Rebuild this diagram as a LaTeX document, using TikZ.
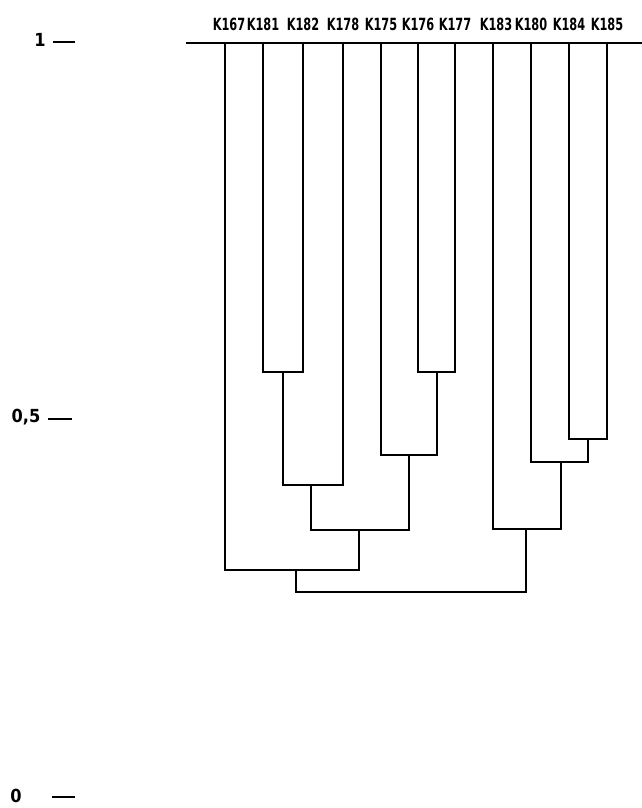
\documentclass[tikz,border=0pt]{standalone}
\usepackage{fontspec}
\setsansfont{DejaVu Sans Condensed}
\usetikzlibrary{positioning,calc}
\newcommand{\leaftext}[1]{\scalebox{0.9}[1.2]{#1}}

\begin{document}
\begin{tikzpicture}[
        x=1pt, y=-1pt,
        leaf/.style={font=\sffamily\bfseries\fontsize{14}{14}\selectfont, inner sep=0pt},
        tick/.style={font=\sffamily\bfseries\fontsize{18}{18}\selectfont, inner sep=0pt},
        link/.style={line width=1.6pt, line cap=rect},
        ticksign/.style={line width=1.6pt}
    ]
        \useasboundingbox (0,0) rectangle (641,808);

        % axis ticks
        \node[tick] (t1)  at (40,40)  {1};
        \node[tick] (t05) at (26,417) {0,5};
        \node[tick] (t0)  at (16,796) {0};
        \coordinate (d1a)  at (53,42);  \coordinate (d1b)  at (75,42);
        \coordinate (d05a) at (48,419); \coordinate (d05b) at (72,419);
        \coordinate (d0a)  at (52,797); \coordinate (d0b)  at (75,797);
        \draw[ticksign] (d1a)  -- (d1b);
        \draw[ticksign] (d05a) -- (d05b);
        \draw[ticksign] (d0a)  -- (d0b);

        % baseline at 1
        \coordinate (bl) at (187,43);
        \coordinate (br) at (641,43);
        \draw[link] (bl) -- (br);

        % leaf bases
        \coordinate (l1)  at (225,43);
        \coordinate (l2)  at (263,43);
        \coordinate (l3)  at (303,43);
        \coordinate (l4)  at (343,43);
        \coordinate (l5)  at (381,43);
        \coordinate (l6)  at (418,43);
        \coordinate (l7)  at (455,43);
        \coordinate (l8)  at (493,43);
        \coordinate (l9)  at (531,43);
        \coordinate (l10) at (569,43);
        \coordinate (l11) at (607,43);

        % leaf labels
        \node[leaf, above=12pt of l1, xshift=4pt] (k167) {\leaftext{K167}};
        \node[leaf, above=12pt of l2]  (k181) {\leaftext{K181}};
        \node[leaf, above=12pt of l3]  (k182) {\leaftext{K182}};
        \node[leaf, above=12pt of l4]  (k178) {\leaftext{K178}};
        \node[leaf, above=12pt of l5]  (k175) {\leaftext{K175}};
        \node[leaf, above=12pt of l6]  (k176) {\leaftext{K176}};
        \node[leaf, above=12pt of l7]  (k177) {\leaftext{K177}};
        \node[leaf, above=12pt of l8, xshift=3pt]  (k183) {\leaftext{K183}};
        \node[leaf, above=12pt of l9]  (k180) {\leaftext{K180}};
        \node[leaf, above=12pt of l10] (k184) {\leaftext{K184}};
        \node[leaf, above=12pt of l11] (k185) {\leaftext{K185}};

        % merge points
        \coordinate (m1)   at (283,372);
        \coordinate (m2)   at (437,372);
        \coordinate (m3)   at (311,485);
        \coordinate (m4)   at (409,455);
        \coordinate (m5)   at (359,530);
        \coordinate (m6)   at (296,570);
        \coordinate (m7)   at (588,439);
        \coordinate (m8)   at (561,462);
        \coordinate (m9)   at (526,529);
        \coordinate (root) at (410,592);

        \draw[link] (l2)  |- (m1) -| (l3);
        \draw[link] (l6)  |- (m2) -| (l7);
        \draw[link] (m1)  |- (m3) -| (l4);
        \draw[link] (l5)  |- (m4) -| (m2);
        \draw[link] (m3)  |- (m5) -| (m4);
        \draw[link] (l1)  |- (m6) -| (m5);
        \draw[link] (l10) |- (m7) -| (l11);
        \draw[link] (l9)  |- (m8) -| (m7);
        \draw[link] (l8)  |- (m9) -| (m8);
        \draw[link] (m6)  |- (root) -| (m9);
    \end{tikzpicture}
\end{document}
